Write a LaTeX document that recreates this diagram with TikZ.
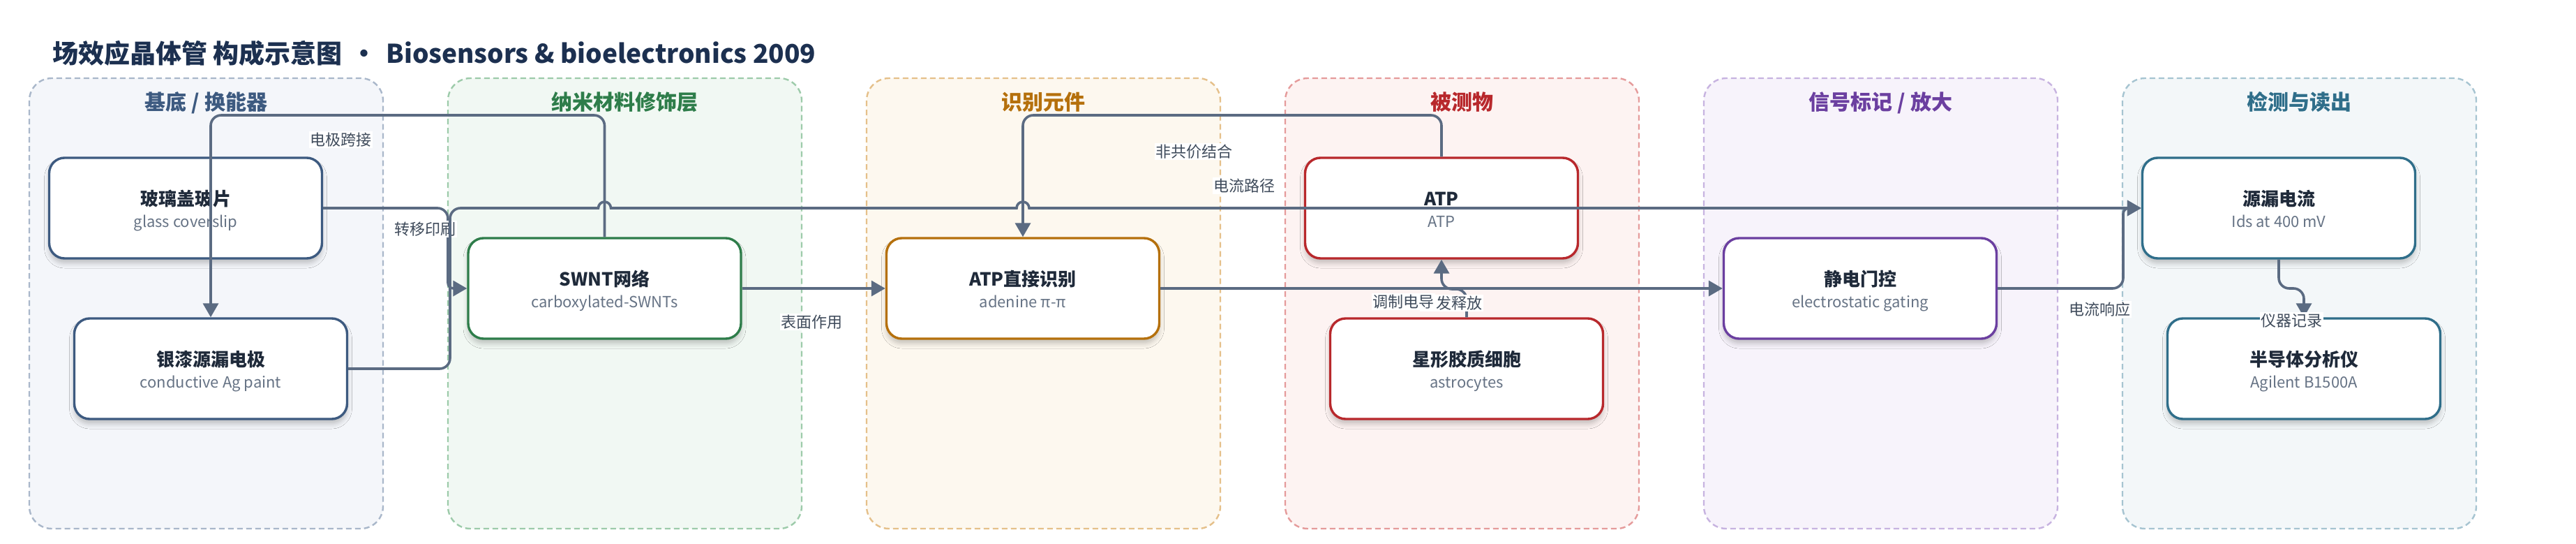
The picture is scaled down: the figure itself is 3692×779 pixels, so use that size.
\documentclass[tikz,border=0pt]{standalone}
\usepackage{fontspec}
\setmainfont{Noto Sans CJK SC}
\usetikzlibrary{arrows.meta,shadows.blur}
\definecolor{edgec}{HTML}{5B6B82}
\definecolor{lblc}{HTML}{3F4B5B}
\definecolor{ttlc}{HTML}{1F2A3A}
\definecolor{subc}{HTML}{667385}
\definecolor{titlec}{HTML}{1C3050}
\definecolor{cA}{HTML}{3D5A80}\definecolor{fA}{HTML}{F4F6FA}\definecolor{bA}{HTML}{A9B7CA}
\definecolor{cB}{HTML}{2E7D4A}\definecolor{fB}{HTML}{F1F8F3}\definecolor{bB}{HTML}{9DCBAA}
\definecolor{cC}{HTML}{B5700C}\definecolor{fC}{HTML}{FDF8EF}\definecolor{bC}{HTML}{E5C08A}
\definecolor{cD}{HTML}{B8282C}\definecolor{fD}{HTML}{FDF3F2}\definecolor{bD}{HTML}{E59B9B}
\definecolor{cE}{HTML}{6B3FA0}\definecolor{fE}{HTML}{F7F3FB}\definecolor{bE}{HTML}{C7B3E0}
\definecolor{cF}{HTML}{2F6E8A}\definecolor{fF}{HTML}{F3F7F9}\definecolor{bF}{HTML}{A6C4D1}
\newcommand\mylane[6]{%
  \path[draw=#4, fill=#3, line width=2.4pt, dash pattern=on 8pt off 5pt, rounded corners=32pt] (#2,112) rectangle ++(507,645);
  \node[lanehead, text=#5] (#1) at (#2+253.5,157) {#6};
}
\newcommand\mynode[6]{%
  \node[box, draw=#4] (#1) at (#2,#3) {};
  \node[ntitle] (#1-t) at (#2,#3-4) {#5};
  \node[nsub] (#1-s) at (#2,#3+27) {#6};
}
\begin{document}
\begin{tikzpicture}[x=1pt,y=-1pt,
  lanehead/.style={anchor=base, inner sep=0pt, font=\bfseries\fontsize{30}{36}\selectfont},
  box/.style={rounded corners=22pt, line width=3.4pt, fill=white, minimum width=391pt, minimum height=144pt, inner sep=0pt,
    blur shadow={shadow xshift=0pt,shadow yshift=-7pt,shadow blur radius=7pt,shadow opacity=22}},
  ntitle/.style={anchor=base, font=\bfseries\fontsize{26}{30}\selectfont, text=ttlc, inner sep=0pt},
  nsub/.style={anchor=base, font=\fontsize{22}{26}\selectfont, text=subc, inner sep=0pt},
  lab/.style={fill=white, inner sep=1.5pt, font=\fontsize{22}{26}\selectfont, text=lblc},
  conn/.style={draw=edgec, line width=3.6pt, rounded corners=15pt, -{Triangle[length=20pt,width=22pt]}},
]
\useasboundingbox (0,0) rectangle (3692,779);
\fill[white] (0,0) rectangle (3692,779);
\node[anchor=base west, inner sep=0pt, font=\bfseries\fontsize{37}{44}\selectfont, text=titlec] (title) at (75,90)
  {场效应晶体管 构成示意图\makebox[1.7em]{•}Biosensors \& bioelectronics 2009};
\mylane{hA}{42}{fA}{bA}{cA}{基底 / 换能器}
\mylane{hB}{642}{fB}{bB}{cB}{纳米材料修饰层}
\mylane{hC}{1242}{fC}{bC}{cC}{识别元件}
\mylane{hD}{1842}{fD}{bD}{cD}{被测物}
\mylane{hE}{2442}{fE}{bE}{cE}{信号标记 / 放大}
\mylane{hF}{3042}{fF}{bF}{cF}{检测与读出}
\mynode{glass}{266}{298}{cA}{玻璃盖玻片}{glass coverslip}
\mynode{ag}{302}{528}{cA}{银漆源漏电极}{conductive Ag paint}
\mynode{swnt}{866.5}{413}{cB}{SWNT网络}{carboxylated-SWNTs}
\mynode{atpr}{1466}{413}{cC}{ATP直接识别}{adenine π-π}
\mynode{atp}{2066}{298}{cD}{ATP}{ATP}
\mynode{astro}{2102}{528}{cD}{星形胶质细胞}{astrocytes}
\mynode{gate}{2666}{413}{cE}{静电门控}{electrostatic gating}
\mynode{ids}{3266}{298}{cF}{源漏电流}{Ids at 400 mV}
\mynode{ana}{3302}{528}{cF}{半导体分析仪}{Agilent B1500A}
% edges
\draw[conn] (swnt.north) -- (866.5,165) -- (302,165) -- (ag.north);
\node[lab] (l1) at (488,200) {电极跨接};
\draw[conn] (glass.east) -- (642,298) -- (642,380) [rounded corners=8pt] -- (642,413) -- (swnt.west);
\node[lab] (l2) at (609,328) {转移印刷};
\draw[conn] (ag.east) -- (645,528) -- (645,298) -- (720,298) [sharp corners] -- (857.5,298)
  arc[start angle=180,end angle=0,radius=9pt] -- (1457,298)
  arc[start angle=180,end angle=0,radius=9pt] -- (ids.west);
\node[lab] (l3) at (1783,266) {电流路径};
\draw[conn] (swnt.east) -- (atpr.west);
\node[lab] (l4) at (1163,461) {表面作用};
\draw[conn] (atp.north) -- (2066,165) -- (1466,165) -- (atpr.north);
\node[lab] (l5) at (1711,217) {非共价结合};
\draw[conn] (astro.north) -- (2102,414) -- (2066,414) -- (atp.south);
\node[lab] (l7) at (2080,434) {诱发释放};
\draw[conn] (atpr.east) -- (gate.west);
\node[lab] (l6) at (2011,432) {调制电导};
\draw[conn] (gate.east) -- (3043,413) -- (3043,330) [rounded corners=8pt] -- (3043,298) -- (ids.west);
\node[lab] (l8) at (3009,443) {电流响应};
\draw[conn] (ids.south) -- (3266,413) -- (3302,413) -- (ana.north);
\node[lab] (l9) at (3284,459) {仪器记录};
\end{tikzpicture}
\end{document}
